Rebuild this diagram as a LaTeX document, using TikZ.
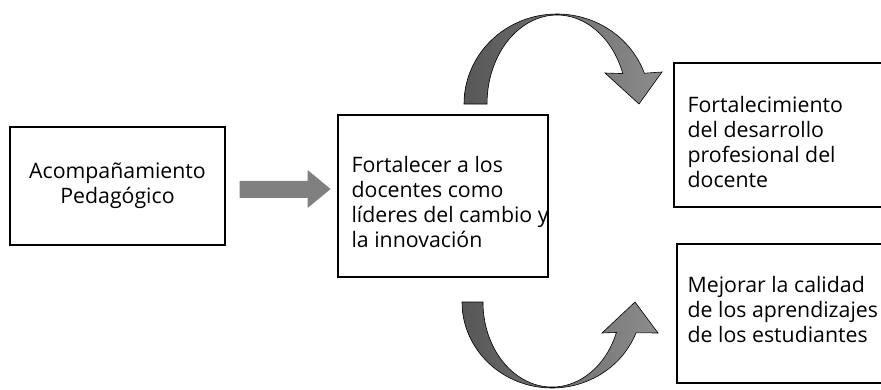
\documentclass[tikz,border=0pt]{standalone}
\usepackage{fontspec}
\setmainfont{Open Sans}
\usetikzlibrary{calc}
\definecolor{flatgray}{HTML}{808080}
\definecolor{darkarc}{HTML}{575757}
\definecolor{lightarc}{HTML}{8C8C8C}

\begin{document}
\begin{tikzpicture}[x=1pt,y=-1pt,
  box/.style={rectangle,draw=black,line width=1.2pt,inner sep=0pt},
  txt/.style={align=left,inner sep=0pt,anchor=north west},
  curved/.style={draw=black,line width=0.6pt,left color=darkarc,right color=lightarc},
  font=\fontsize{21.3}{24.8}\selectfont]
  \useasboundingbox (0,0) rectangle (881,390);
  \draw(117.5,186) node[box,minimum width=215pt,minimum height=118pt,align=center] (A) {Acompañamiento\\Pedagógico};
  \draw(443,196) node[box,minimum width=210pt,minimum height=162pt] (B) {};
  \draw(787,135) node[box,minimum width=226pt,minimum height=144pt] (C) {};
  \draw(788.5,313.5) node[box,minimum width=223pt,minimum height=139pt] (D) {};
  \node[txt] (Bt) at ($(B.north west)+(14,42)$) {Fortalecer a los\\docentes como\\líderes del cambio y\\la innovación};
  \node[txt] (Ct) at ($(C.north west)+(14,34)$) {Fortalecimiento\\del desarrollo\\profesional del\\docente};
  \node[txt] (Dt) at ($(D.north west)+(11,33)$) {Mejorar la calidad\\de los aprendizajes\\de los estudiantes};
  % straight block arrow
  \fill[flatgray] ($(A.east)+(14,-5)$) -- ($(A.east)+(82,-5)$) -- ($(A.east)+(82,-16)$)
    -- ($(A.east)+(105,3)$) -- ($(A.east)+(82,22)$) -- ($(A.east)+(82,12)$) -- ($(A.east)+(14,12)$) -- cycle;
  % curved arrows
  \shadedraw[curved] (464,104) arc[start angle=180,end angle=340,x radius=93,y radius=90]
    -- (662,72) -- (639,104) -- (605,73) -- (622.8,73.6)
    arc[start angle=340,end angle=180,x radius=70,y radius=89] -- cycle;
  \shadedraw[curved] (462,302) arc[start angle=180,end angle=21,x radius=90,y radius=86]
    -- (658,333) -- (635,302) -- (602,333) -- (616.4,332.5)
    arc[start angle=21,end angle=180,x radius=69,y radius=85] -- cycle;
\end{tikzpicture}
\end{document}
